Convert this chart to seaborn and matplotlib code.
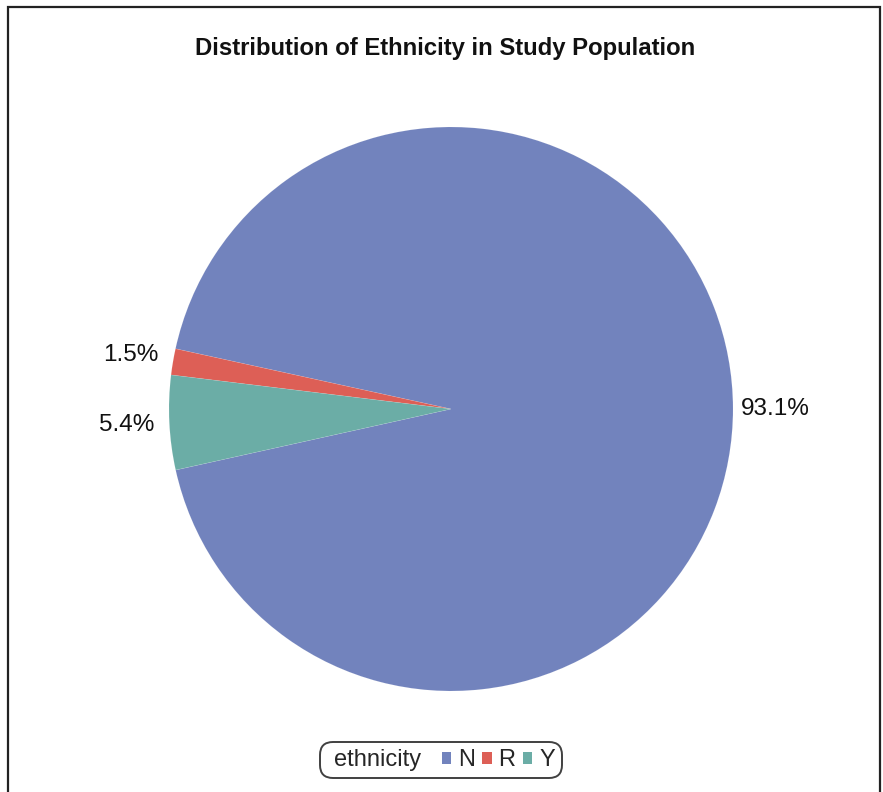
import matplotlib
matplotlib.use("Agg")
import matplotlib.pyplot as plt
import matplotlib.patches as mpatches
import seaborn as sns

# Ethnicity shares (percent)
categories = ["N", "R", "Y"]
shares = [93.1, 1.5, 5.4]
colors = ["#7283bd", "#dd5f56", "#6badA6"]
title = "Distribution of Ethnicity in Study Population"
legend_title = "ethnicity"

sns.set_theme(style="white")
plt.rcParams["font.family"] = ["Liberation Sans", "DejaVu Sans"]

W, H = 883, 792
fig = plt.figure(figsize=(W / 100, H / 100), dpi=100)
fig.patch.set_facecolor("white")

# pie center and radius in pixels
cx, cy, r = 451, 409, 282
lim = 1.3
side = 2 * lim * r
ax = fig.add_axes([(cx - side / 2) / W, 1 - (cy + side / 2) / H, side / W, side / H])

wedges, texts, autotexts = ax.pie(
    shares,
    colors=colors,
    startangle=192.5,
    counterclock=True,
    autopct="%.1f%%",
    pctdistance=1.15,
    radius=1,
    wedgeprops=dict(linewidth=0.4, edgecolor=(1, 1, 1, 0.15)),
    textprops=dict(fontsize=17.5, color="#111111"),
)
ax.set_xlim(-lim, lim)
ax.set_ylim(-lim, lim)
ax.set_aspect("auto")
ax.axis("off")

fig.text(445 / W, 1 - 48 / H, title, ha="center", va="center",
         fontsize=17.2, fontweight="bold", color="#111111")

# outer frame (bottom edge runs off the image)
frame = mpatches.Rectangle((8 / W, -0.02), (880 - 8) / W, 1 - 7 / H + 0.02,
                           transform=fig.transFigure, fill=False,
                           edgecolor="#222222", linewidth=1.6, clip_on=False)
fig.patches.append(frame)

# legend: label followed by colour keys
blank = mpatches.Rectangle((0, 0), 1, 1, fill=False, edgecolor="none", visible=False)
handles = [blank] + [mpatches.Patch(facecolor=c, edgecolor="none") for c in colors]
labels = [legend_title + "  "] + categories
leg = fig.legend(handles, labels, loc="center", bbox_to_anchor=(441 / W, 1 - 760 / H),
                 ncol=4, fontsize=17, frameon=True, fancybox=True,
                 handlelength=0.4, handleheight=0.4, handletextpad=0.3,
                 columnspacing=0.3, borderpad=0.3, borderaxespad=0)
frame_l = leg.get_frame()
frame_l.set_edgecolor("#111111")
frame_l.set_linewidth(1.4)
frame_l.set_boxstyle("round", pad=0.0, rounding_size=0.55)

# collapse the placeholder handle so the label sits flush at the left
first_col = leg._legend_handle_box.get_children()[0]
first_item = first_col.get_children()[0]
first_item.get_children()[0].width = 0
leg.legend_handles[0].set_visible(False)

fig.savefig("out.png", dpi=100, facecolor="white")
